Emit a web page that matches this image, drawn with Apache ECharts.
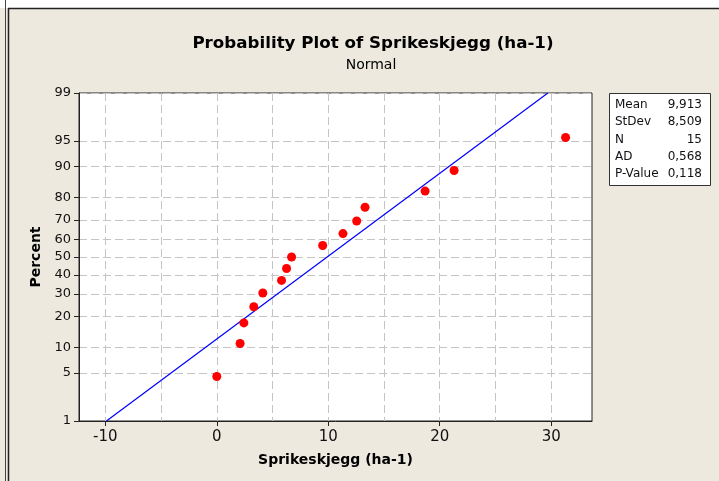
<!DOCTYPE html>
<html><head><meta charset="utf-8">
<script src="https://cdn.jsdelivr.net/npm/echarts@6/dist/echarts.min.js"></script>
<style>html,body{margin:0;padding:0;background:#fff}#c{width:719px;height:481px}</style>
</head><body><div id="c"></div>
<script>
const xValues = [0.0, 2.09, 2.43, 3.32, 4.13, 5.81, 6.26, 6.71, 9.5, 11.32, 12.55, 13.3, 18.69, 21.29, 31.29];
const percentValues = [4.5, 11.0, 17.5, 24.0, 30.5, 37.0, 43.5, 50.0, 56.5, 63.0, 69.5, 76.0, 82.5, 89.0, 95.5];
const fitX = [-9.9, 29.7];
const fitPercent = [1, 99];
const percentTicks = [1, 5, 10, 20, 30, 40, 50, 60, 70, 80, 90, 95, 99];
const xTicks = [-10, 0, 10, 20, 30];
const xGridLines = [-10, -5, 0, 5, 10, 15, 20, 25, 30];
const statLabels = ['Mean', 'StDev', 'N', 'AD', 'P-Value'];
const statValues = ['9,913', '8,509', '15', '0,568', '0,118'];
const titleText = 'Probability Plot of Sprikeskjegg (ha-1)';
const subtitleText = 'Normal';
const xName = 'Sprikeskjegg (ha-1)';
const yName = 'Percent';

// inverse standard normal CDF (probability-scale transform)
function probit(p) {
  const a = [-3.969683028665376e+01, 2.209460984245205e+02, -2.759285104469687e+02, 1.383577518672690e+02, -3.066479806614716e+01, 2.506628277459239e+00];
  const b = [-5.447609879822406e+01, 1.615858368580409e+02, -1.556989798598866e+02, 6.680131188771972e+01, -1.328068155288572e+01];
  const c = [-7.784894002430293e-03, -3.223964580411365e-01, -2.400758277161838e+00, -2.549732539343734e+00, 4.374664141464968e+00, 2.938163982698783e+00];
  const d = [7.784695709041462e-03, 3.224671290700398e-01, 2.445134137142996e+00, 3.754408661907416e+00];
  const pl = 0.02425, ph = 1 - pl;
  let q, r;
  if (p < pl) { q = Math.sqrt(-2 * Math.log(p)); return (((((c[0]*q+c[1])*q+c[2])*q+c[3])*q+c[4])*q+c[5]) / ((((d[0]*q+d[1])*q+d[2])*q+d[3])*q+1); }
  if (p > ph) { q = Math.sqrt(-2 * Math.log(1 - p)); return -(((((c[0]*q+c[1])*q+c[2])*q+c[3])*q+c[4])*q+c[5]) / ((((d[0]*q+d[1])*q+d[2])*q+d[3])*q+1); }
  q = p - 0.5; r = q * q;
  return (((((a[0]*r+a[1])*r+a[2])*r+a[3])*r+a[4])*r+a[5])*q / (((((b[0]*r+b[1])*r+b[2])*r+b[3])*r+b[4])*r+1);
}
const z = pct => probit(pct / 100);
const zTicks = percentTicks.map(z);
function zLabel(v) {
  let best = 0, bd = Infinity;
  zTicks.forEach((t, i) => { const dd = Math.abs(t - v); if (dd < bd) { bd = dd; best = i; } });
  return String(percentTicks[best]);
}

const FONT = 'DejaVu Sans';
const G = { left: 79, top: 93, width: 513, height: 328 };
const gridLine = { show: true, lineStyle: { color: '#c4c4c4', type: [8, 4], width: 1 } };

const chart = echarts.init(document.getElementById('c'), null, { renderer: 'canvas' });

const statGraphics = [];
const boxX = 609, boxY = 93.5, rowY0 = 105, rowStep = 17.3;
statGraphics.push({ type: 'rect', shape: { x: boxX + 0.5, y: boxY, width: 101, height: 92 }, style: { fill: '#fff', stroke: '#333', lineWidth: 1 }, z: 10 });
statLabels.forEach((l, i) => {
  statGraphics.push({ type: 'text', x: 615, y: rowY0 + i * rowStep, style: { text: l, font: '12px ' + FONT, fill: '#111', textVerticalAlign: 'middle' }, z: 11 });
  statGraphics.push({ type: 'text', x: 702, y: rowY0 + i * rowStep, style: { text: statValues[i], font: '12px ' + FONT, fill: '#111', textAlign: 'right', textVerticalAlign: 'middle' }, z: 11 });
});

chart.setOption({
  animation: false,
  backgroundColor: '#ede9df',
  title: [
    { text: titleText, left: 368, top: 30, textAlign: 'center', textStyle: { fontFamily: FONT, fontWeight: 'bold', fontSize: 16.7, color: '#000' } },
    { text: subtitleText, left: 366, top: 53, textAlign: 'center', textStyle: { fontFamily: FONT, fontWeight: 'normal', fontSize: 14, color: '#000' } }
  ],
  grid: { left: G.left, top: G.top, width: G.width, height: G.height, show: true, backgroundColor: '#fff', borderColor: '#222', borderWidth: 1, containLabel: false },
  xAxis: [
    {
      type: 'value', min: -12.36, max: 33.66, position: 'bottom',
      name: xName, nameLocation: 'middle', nameGap: 32,
      nameTextStyle: { fontFamily: FONT, fontWeight: 'bold', fontSize: 14, color: '#000' },
      axisLine: { show: true, onZero: false, lineStyle: { color: '#222', width: 1 } },
      axisTick: { show: true, length: 5, customValues: xTicks, lineStyle: { color: '#222' } },
      axisLabel: { customValues: xTicks, margin: 9, fontFamily: FONT, fontSize: 15, color: '#111' },
      splitLine: { show: false }
    },
    {
      type: 'value', min: -12.36, max: 33.66, position: 'top',
      axisLine: { show: false }, axisTick: { show: false, customValues: xGridLines },
      axisLabel: { show: false, customValues: xGridLines },
      splitLine: gridLine
    }
  ],
  yAxis: {
    type: 'value', min: z(1), max: z(99),
    name: yName, nameLocation: 'middle', nameGap: 33, nameRotate: 90,
    nameTextStyle: { fontFamily: FONT, fontWeight: 'bold', fontSize: 14, color: '#000' },
    axisLine: { show: true, onZero: false, lineStyle: { color: '#222', width: 1 } },
    axisTick: { show: true, length: 5, customValues: zTicks, lineStyle: { color: '#222' } },
    axisLabel: { customValues: zTicks, formatter: v => zLabel(v), margin: 8, fontFamily: FONT, fontSize: 13, color: '#111' },
    splitLine: gridLine
  },
  series: [
    {
      type: 'line', xAxisIndex: 0, data: fitX.map((x, i) => [x, z(fitPercent[i])]),
      symbol: 'none', lineStyle: { color: '#0000ff', width: 1.2 }, z: 3, silent: true
    },
    {
      type: 'scatter', xAxisIndex: 0, data: xValues.map((x, i) => [x, z(percentValues[i])]),
      symbol: 'circle', symbolSize: 9, itemStyle: { color: '#ff0000', opacity: 1 }, z: 4
    }
  ],
  graphic: [
    { type: 'rect', shape: { x: 0, y: 0, width: 719, height: 8 }, style: { fill: '#fff' }, z: 1 },
    { type: 'line', shape: { x1: 8, y1: 8.5, x2: 719, y2: 8.5 }, style: { stroke: '#222', lineWidth: 1.5 }, z: 2 },
    { type: 'line', shape: { x1: 5.5, y1: 0, x2: 5.5, y2: 481 }, style: { stroke: '#444', lineWidth: 1 }, z: 2 },
    { type: 'line', shape: { x1: 8.5, y1: 8, x2: 8.5, y2: 481 }, style: { stroke: '#222', lineWidth: 1.5 }, z: 2 }
  ].concat(statGraphics)
});
</script>
</body></html>
